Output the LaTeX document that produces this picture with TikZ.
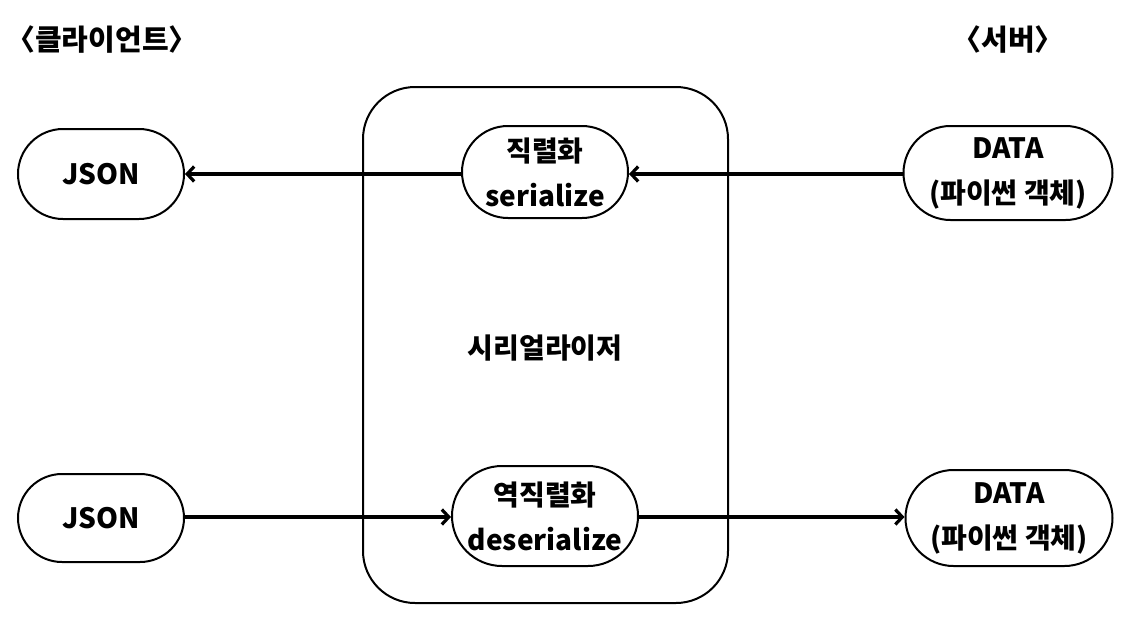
\documentclass[tikz,border=0pt]{standalone}
\usepackage{fontspec}
\setmainfont{Noto Sans CJK KR}[BoldFont={* Black}]
\usetikzlibrary{shapes.misc,arrows.meta}
\begin{document}
\begin{tikzpicture}[x=1pt,y=-1pt,
  every node/.style={font=\bfseries\fontsize{28}{45}\selectfont, align=center, inner sep=0pt},
  pill/.style={draw, line width=2pt, rounded rectangle, minimum height=90pt},
  flow/.style={line width=3.2pt, -{Straight Barb[length=7pt,width=15pt,line width=3.2pt]}},
  head/.style={font=\bfseries\fontsize{29}{34}\selectfont}]
\useasboundingbox (0,0) rectangle (1136,624);
\draw[line width=2pt, rounded corners=52pt] (363,87) rectangle (728,603);
\node[head] (client) at (102,40) {〈클라이언트〉};
\node[head] (server) at (1008,40) {〈서버〉};
\node (ser) at (545,348) {시리얼라이저};
\node[pill, minimum width=166pt] (json1) at (101,174) {JSON};
\node[pill, minimum width=166pt, minimum height=92pt] (s) at (545,172) {직렬화\\serialize};
\node[pill, minimum width=209pt, minimum height=94pt] (d1) at (1008,173) {DATA\\(파이썬 객체)};
\node[pill, minimum width=166pt, minimum height=88pt] (json2) at (101,518) {JSON};
\node[pill, minimum width=186pt, minimum height=100pt] (ds) at (545,516) {역직렬화\\deserialize};
\node[pill, minimum width=207pt, minimum height=96pt] (d2) at (1009,518) {DATA\\(파이썬 객체)};
\draw[flow] (d1.west |- 0,174) -- (s.east |- 0,174);
\draw[flow] (s.west |- 0,174) -- (json1.east |- 0,174);
\draw[flow] (json2.east |- 0,517) -- (ds.west |- 0,517);
\draw[flow] (ds.east |- 0,517) -- (d2.west |- 0,517);
\end{tikzpicture}
\end{document}
